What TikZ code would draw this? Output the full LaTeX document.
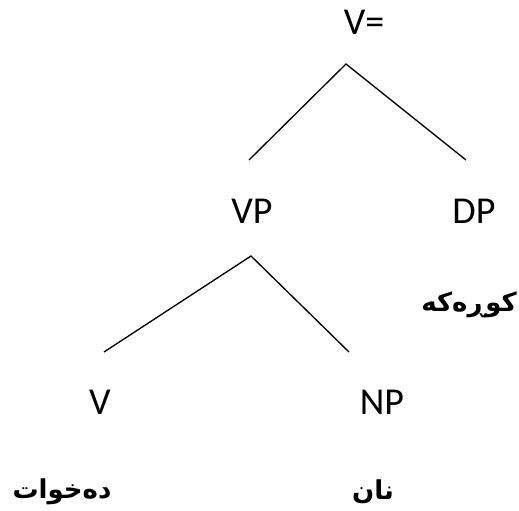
\documentclass[tikz,border=0pt]{standalone}
\usepackage{fontspec}
\setmainfont{Carlito}
\newfontfamily\arabicfont[Script=Arabic]{DejaVu Sans}
\TeXXeTstate=1
\begin{document}
\begin{tikzpicture}[x=0.75pt,y=-0.75pt,
  lab/.style={inner sep=0pt,font=\fontsize{28.5}{30}\selectfont},
  ar/.style={inner sep=0pt,font=\arabicfont\bfseries\fontsize{19.5}{22}\selectfont},
  branch/.style={line width=1pt}]
\useasboundingbox (0,0) rectangle (519,511);
\node[lab] (veq) at (364,22) {V=};
\node[lab] (vp) at (252,211) {VP};
\node[lab] (dp) at (474,211) {DP};
\node[ar] (kurk) at (469,305) {\beginR کوڕەکە\endR};
\node[lab] (v) at (100,402) {V};
\node[lab] (np) at (382,402) {NP};
\node[ar] (dexwat) at (62,492) {\beginR دەخوات\endR};
\node[ar] (nan) at (373,492) {\beginR نان\endR};
\coordinate (a1) at (346,64);
\coordinate (a1l) at (249,160);
\coordinate (a1r) at (466,160);
\coordinate (a2) at (251,256);
\coordinate (a2l) at (104,352);
\coordinate (a2r) at (349,352);
\draw[branch] (a1l) -- (a1) -- (a1r);
\draw[branch] (a2l) -- (a2) -- (a2r);
\end{tikzpicture}
\end{document}
